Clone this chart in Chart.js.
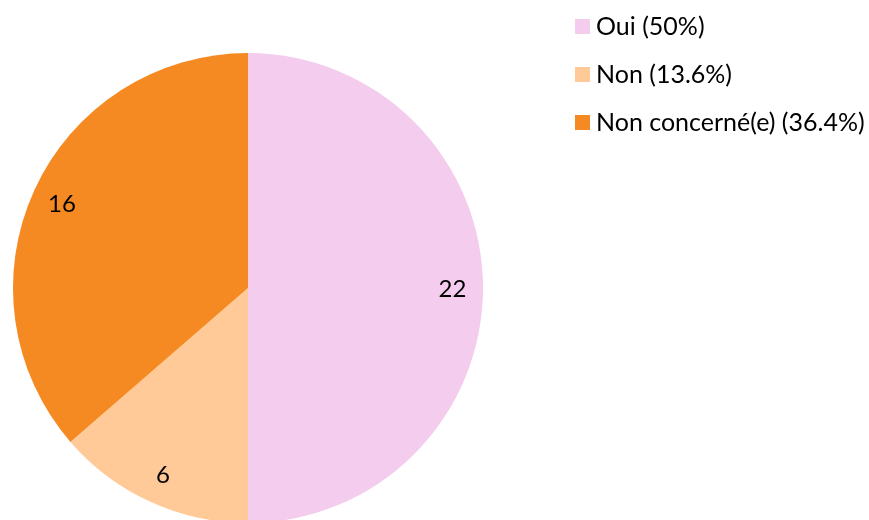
<!DOCTYPE html>
<html><head><meta charset="utf-8">
<script src="https://cdn.jsdelivr.net/npm/chart.js@4/dist/chart.umd.min.js"></script>
<style>html,body{margin:0;padding:0;background:#fff;overflow:hidden}#wrap{width:869px;height:526px}</style>
</head><body><div id="wrap"><canvas id="c" width="869" height="526"></canvas></div>
<script>
const categories = ["Oui", "Non", "Non concerné(e)"];
const values = [22, 6, 16];
const legendLabels = ["Oui (50%)", "Non (13.6%)", "Non concerné(e) (36.4%)"];
const colors = ["#F3CCEE", "#FFCA97", "#F58A22"];
const FONT = "Lato, sans-serif";

const labelPlugin = {
  id: 'sliceLabels',
  afterDatasetsDraw(chart) {
    const ctx = chart.ctx;
    const meta = chart.getDatasetMeta(0);
    ctx.save();
    ctx.font = "24px " + FONT;
    ctx.fillStyle = "#000";
    ctx.textAlign = "center";
    ctx.textBaseline = "middle";
    meta.data.forEach((arc, i) => {
      const p = arc.getProps(['x','y','startAngle','endAngle','outerRadius'], true);
      const mid = (p.startAngle + p.endAngle) / 2;
      const r = p.outerRadius * 0.87;
      ctx.fillText(String(values[i]), p.x + Math.cos(mid) * r, p.y + Math.sin(mid) * r + 1);
    });
    ctx.restore();
  }
};

const legendPlugin = {
  id: 'customLegend',
  afterDraw(chart) {
    const ctx = chart.ctx;
    ctx.save();
    ctx.font = "25px " + FONT;
    ctx.textAlign = "left";
    ctx.textBaseline = "middle";
    legendLabels.forEach((t, i) => {
      const cy = 26.5 + i * 48;
      ctx.fillStyle = colors[i];
      ctx.fillRect(575, cy - 7.5, 15, 15);
      ctx.fillStyle = "#000";
      ctx.fillText(t, 596, cy);
    });
    ctx.restore();
  }
};

new Chart(document.getElementById('c'), {
  type: 'pie',
  data: { labels: categories, datasets: [{ data: values, backgroundColor: colors, borderWidth: 0 }] },
  options: {
    responsive: false,
    animation: false,
    layout: { padding: { left: 13, top: 53, bottom: 3, right: 386 } },
    plugins: { legend: { display: false }, tooltip: { enabled: false } }
  },
  plugins: [labelPlugin, legendPlugin]
});
</script></body></html>
